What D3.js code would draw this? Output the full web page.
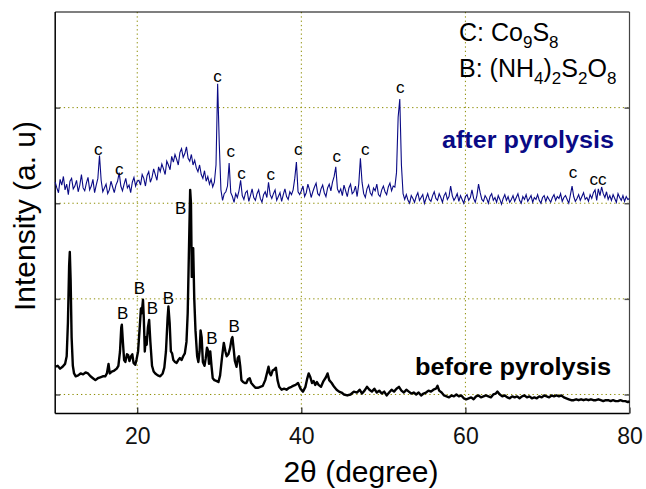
<!DOCTYPE html>
<html><head><meta charset="utf-8">
<script src="https://cdn.jsdelivr.net/npm/d3@7"></script>
<style>html,body{margin:0;padding:0;background:#fff;}svg{display:block;font-family:"Liberation Sans",Arial,sans-serif;}</style>
</head><body>
<svg id="chart" width="646" height="489"></svg>
<script>
// ---- data ----
const xTicks = [20, 40, 60, 80];
const yGridValues = [0, 100, 200, 300];

// before pyrolysis (2θ, intensity a.u.)
const beforeX = [10.0,10.3,10.6,10.9,11.2,11.4,11.55,11.7,11.78,11.88,12.0,12.15,12.3,12.5,12.8,13.1,13.4,13.7,14.0,14.3,14.6,14.9,15.2,15.5,15.8,16.1,16.3,16.5,16.65,16.9,17.2,17.5,17.7,17.9,18.05,18.12,18.25,18.4,18.55,18.75,18.9,19.05,19.25,19.4,19.55,19.75,19.9,20.1,20.3,20.45,20.55,20.7,20.8,20.92,21.05,21.15,21.3,21.45,21.6,21.8,22.0,22.2,22.5,22.8,23.1,23.3,23.5,23.7,23.8,23.95,24.1,24.25,24.4,24.6,24.8,25.0,25.2,25.4,25.6,25.8,26.0,26.15,26.3,26.45,26.55,26.65,26.75,26.82,26.95,27.1,27.3,27.45,27.6,27.72,27.85,28.0,28.2,28.35,28.5,28.62,28.75,28.9,29.05,29.2,29.4,29.7,29.9,30.1,30.35,30.55,30.75,30.9,31.1,31.3,31.5,31.6,31.75,31.9,32.1,32.25,32.4,32.55,32.7,32.9,33.1,33.3,33.5,33.7,33.9,34.1,34.4,34.7,35.0,35.3,35.6,35.8,36.0,36.15,36.3,36.5,36.7,36.9,37.1,37.3,37.6,37.9,38.2,38.5,38.8,39.0,39.3,39.6,39.9,40.2,40.5,40.7,40.9,41.1,41.3,41.5,41.7,41.9,42.1,42.4,42.7,43.0,43.2,43.4,43.7,44.0,44.3,44.6,44.9,45.2,45.6,46.0,46.4,46.8,47.1,47.4,47.7,48.0,48.3,48.6,48.9,49.2,49.5,49.8,50.1,50.4,50.7,51.0,51.3,51.6,51.9,52.2,52.5,52.8,53.1,53.4,53.7,54.0,54.3,54.6,54.9,55.2,55.5,55.8,56.1,56.4,56.6,56.8,57.1,57.4,57.7,58.0,58.3,58.6,58.9,59.2,59.5,59.8,60.1,60.4,60.7,61.0,61.3,61.6,61.9,62.2,62.5,62.8,63.1,63.4,63.7,63.9,64.2,64.5,64.8,65.1,65.4,65.7,66.0,66.3,66.6,66.9,67.2,67.5,67.8,68.1,68.4,68.7,69.0,69.3,69.6,69.9,70.2,70.5,70.8,71.1,71.4,71.7,72.0,72.3,72.6,72.9,73.2,73.5,73.8,74.1,74.4,74.7,75.0,75.3,75.6,75.9,76.2,76.5,76.8,77.1,77.4,77.7,78.0,78.3,78.6,78.9,79.2,79.5,79.8,80.0];
const beforeY = [29,30,27,29,32,40,75,135,149,120,60,30,22,19,20,22,21,23,22,19,17,15,17,18,19,19,22,32,22,24,25,27,30,45,70,73,55,36,34,42,41,35,40,42,33,31,36,45,70,90,85,99,80,45,60,52,70,78,55,30,24,22,20,19,22,28,45,80,92,75,45,43,36,34,33,36,38,36,40,43,55,85,150,214,200,123,140,153,100,67,40,34,45,67,60,34,30,38,49,46,32,45,30,17,15,14,13,20,40,54,45,40,42,48,58,60,48,35,29,38,40,30,15,13,12,12,16,17,12,10,7,7,8,9,15,22,29,22,20,25,26,28,15,8,5,6,5,7,8,9,10,12,6,3,8,16,22,18,12,14,10,13,10,8,14,18,22,15,12,8,5,3,2,0,-1,0,3,2,5,1,4,8,5,3,6,2,4,1,3,-1,2,5,3,6,8,4,2,5,3,1,2,0,2,-1,1,2,4,3,5,6,9,4,2,-1,-2,-3,-1,-2,0,-2,-1,-4,-5,-4,-3,-5,-2,-1,-3,-2,-1,-2,-3,0,1,3,0,-2,-1,-3,-4,-2,-3,-2,-4,-2,-1,-3,-2,-4,-3,-4,-2,-3,-1,-2,-3,-1,-2,-1,-2,-1,-3,-4,-5,-6,-6,-5,-6,-5,-6,-5,-6,-5,-6,-6,-5,-6,-7,-6,-6,-7,-6,-7,-7,-6,-7,-7,-8,-7];

// after pyrolysis: measured every 0.2° from 10° to 80°
const afterStart = 10, afterStep = 0.2;
const afterY = [
222,216,211,225,219,228,214,220,209,223,226,215,218,224,212,219,230,216,213,221,227,214,218,225,211,219,
226,250,224,212,
216,220,210,214,223,217,211,219,223,
232,218,
213,220,226,216,219,211,222,227,218,223,
224,219,230,226,218,229,233,222,227,236,230,224,238,233,241,236,230,244,240,235,249,243,251,246,240,253,257,248,252,259,247,244,251,240,245,237,233,240,230,226,234,223,228,220,225,217,222,
240,325,262,214,203,210,212,218,242,211,207,201,210,206,213,224,208,
204,211,213,202,208,215,206,203,210,214,205,201,209,212,206,
222,209,
205,210,214,203,207,211,202,209,215,207,204,212,209,214,
226,243,212,
209,213,218,207,211,220,214,206,212,217,221,210,208,215,219,211,207,216,220,213,222,
228,238,215,
211,215,208,219,213,207,216,220,210,212,218,207,220,
247,222,
210,206,215,219,211,208,216,213,220,209,207,214,218,212,209,217,221,213,218,217,
232,290,309,240,210,
204,209,203,200,208,205,201,207,211,203,206,209,200,205,210,204,202,208,212,205,203,210,206,201,208,211,204,207,218,208,
203,206,210,202,208,204,200,207,209,203,206,214,205,201,208,220,211,204,202,208,205,200,207,210,203,206,201,208,204,199,
205,209,203,207,201,204,208,202,206,210,203,200,207,204,209,202,205,208,201,206,204,209,203,200,206,208,202,207,204,201,
206,209,203,207,205,210,202,206,208,204,200,209,218,207,202,205,209,203,207,211,204,206,202,209,205,211,214,203,215,208,
217,210,206,212,204,208,203,209,205,201,210,206,203,208,202,207,204,205];

// peak annotations
const afterLabelText = ["c","c","c","c","c","c","c","c","c","c","c","cc"];
const afterLabelX = [15.26,17.82,29.77,31.40,32.70,36.28,39.61,44.33,47.78,52.05,73.11,76.16];
const afterLabelY = [250.5,229.6,327.2,248.1,225.7,224.4,250.5,243.5,250.5,315.7,226.2,219.1];
const beforeLabelX = [18.23,20.26,21.84,23.79,25.30,29.09,31.80];
const beforeLabelY = [78.7,104.8,83.9,94.7,188.5,52.8,65.7];

// ---- chart ----
const m = {left: 55.2, right: 629.5, top: 12, bottom: 413.6};
const svg = d3.select("#chart");
const x = d3.scaleLinear().domain([10, 80]).range([m.left, m.right]);
const y = d3.scaleLinear().domain([-20, 400]).range([m.bottom, m.top]);

// grid
const grid = svg.append("g").attr("stroke", "#8c8c00").attr("stroke-width", 1).attr("stroke-dasharray", "1.3,3");
grid.selectAll(".gx").data(xTicks.filter(d => d < 80)).join("line")
  .attr("x1", d => x(d)).attr("x2", d => x(d)).attr("y1", m.top).attr("y2", m.bottom);
grid.selectAll(".gy").data(yGridValues).join("line")
  .attr("x1", m.left).attr("x2", m.right).attr("y1", d => y(d)).attr("y2", d => y(d));

// axes (ticks inward, no y labels)
const xAxis = d3.axisBottom(x).tickValues(xTicks).tickSize(-6).tickPadding(14).tickFormat(d3.format("d"));
const gx = svg.append("g").attr("transform", `translate(0,${m.bottom})`).call(xAxis);
gx.select(".domain").remove();
gx.selectAll("line").attr("stroke", "#222").attr("stroke-width", 1.2);
gx.selectAll("text").attr("font-size", 23).attr("fill", "#111").attr("font-family", "Liberation Sans, Arial, sans-serif");
const yAxisL = d3.axisLeft(y).tickValues(yGridValues).tickSize(-5).tickFormat("");
const gyl = svg.append("g").attr("transform", `translate(${m.left},0)`).call(yAxisL);
gyl.select(".domain").remove();
gyl.selectAll("line").attr("stroke", "#555").attr("stroke-width", 1.5);
const yAxisR = d3.axisRight(y).tickValues(yGridValues).tickSize(-5).tickFormat("");
const gyr = svg.append("g").attr("transform", `translate(${m.right},0)`).call(yAxisR);
gyr.select(".domain").remove();
gyr.selectAll("line").attr("stroke", "#555").attr("stroke-width", 1.5);

// frame
svg.append("line").attr("x1", m.left).attr("x2", m.left).attr("y1", m.top).attr("y2", m.bottom).attr("stroke", "#000").attr("stroke-width", 1.5);
svg.append("line").attr("x1", m.left).attr("x2", m.right).attr("y1", m.bottom).attr("y2", m.bottom).attr("stroke", "#000").attr("stroke-width", 1.5);
svg.append("line").attr("x1", m.left).attr("x2", m.right).attr("y1", m.top).attr("y2", m.top).attr("stroke", "#000").attr("stroke-width", 1.2);
svg.append("line").attr("x1", m.right).attr("x2", m.right).attr("y1", m.top).attr("y2", m.bottom).attr("stroke", "#444").attr("stroke-width", 1.2);

// lines
const beforeData = beforeX.map((d, i) => [d, beforeY[i]]);
const afterData = afterY.map((v, i) => [afterStart + i * afterStep, v]);
const line = d3.line().x(d => x(d[0])).y(d => y(d[1]));
svg.append("path").datum(afterData).attr("d", line).attr("fill", "none").attr("stroke", "#0a0a85").attr("stroke-width", 1.1);
svg.append("path").datum(beforeData).attr("d", line).attr("fill", "none").attr("stroke", "#000").attr("stroke-width", 2.4).attr("stroke-linejoin", "round");

// peak labels
svg.append("g").selectAll("text").data(afterLabelX).join("text")
  .attr("x", (d) => x(d)).attr("y", (d, i) => y(afterLabelY[i]))
  .attr("text-anchor", "middle").attr("font-size", 17).attr("fill", "#000")
  .text((d, i) => afterLabelText[i]);
svg.append("g").selectAll("text").data(beforeLabelX).join("text")
  .attr("x", (d) => x(d)).attr("y", (d, i) => y(beforeLabelY[i]))
  .attr("text-anchor", "middle").attr("font-size", 17).attr("fill", "#000")
  .text("B");

// legend text
const leg1 = svg.append("text").attr("x", 459).attr("y", 41).attr("font-size", 25).attr("fill", "#000");
leg1.append("tspan").text("C: Co");
leg1.append("tspan").attr("font-size", 17).attr("dy", 7).text("9");
leg1.append("tspan").attr("dy", -7).text("S");
leg1.append("tspan").attr("font-size", 17).attr("dy", 7).text("8");
const leg2 = svg.append("text").attr("x", 459).attr("y", 77).attr("font-size", 25).attr("fill", "#000");
leg2.append("tspan").text("B: (NH");
leg2.append("tspan").attr("font-size", 17).attr("dy", 7).text("4");
leg2.append("tspan").attr("dy", -7).text(")");
leg2.append("tspan").attr("font-size", 17).attr("dy", 7).text("2");
leg2.append("tspan").attr("dy", -7).text("S");
leg2.append("tspan").attr("font-size", 17).attr("dy", 7).text("2");
leg2.append("tspan").attr("dy", -7).text("O");
leg2.append("tspan").attr("font-size", 17).attr("dy", 7).text("8");

// series labels
svg.append("text").attr("x", 442).attr("y", 148).attr("font-size", 23).attr("font-weight", "bold")
  .attr("fill", "#0a0a85").attr("textLength", 172).attr("lengthAdjust", "spacingAndGlyphs").text("after pyrolysis");
svg.append("text").attr("x", 415).attr("y", 375).attr("font-size", 23).attr("font-weight", "bold")
  .attr("fill", "#000").attr("textLength", 196).attr("lengthAdjust", "spacingAndGlyphs").text("before pyrolysis");

// axis titles
svg.append("text").attr("x", 361).attr("y", 482).attr("text-anchor", "middle").attr("font-size", 30).attr("fill", "#000").text("2θ (degree)");
svg.append("text").attr("transform", "translate(35,216) rotate(-90)").attr("text-anchor", "middle").attr("font-size", 30).attr("fill", "#000").text("Intensity (a. u)");
</script>
</body></html>
